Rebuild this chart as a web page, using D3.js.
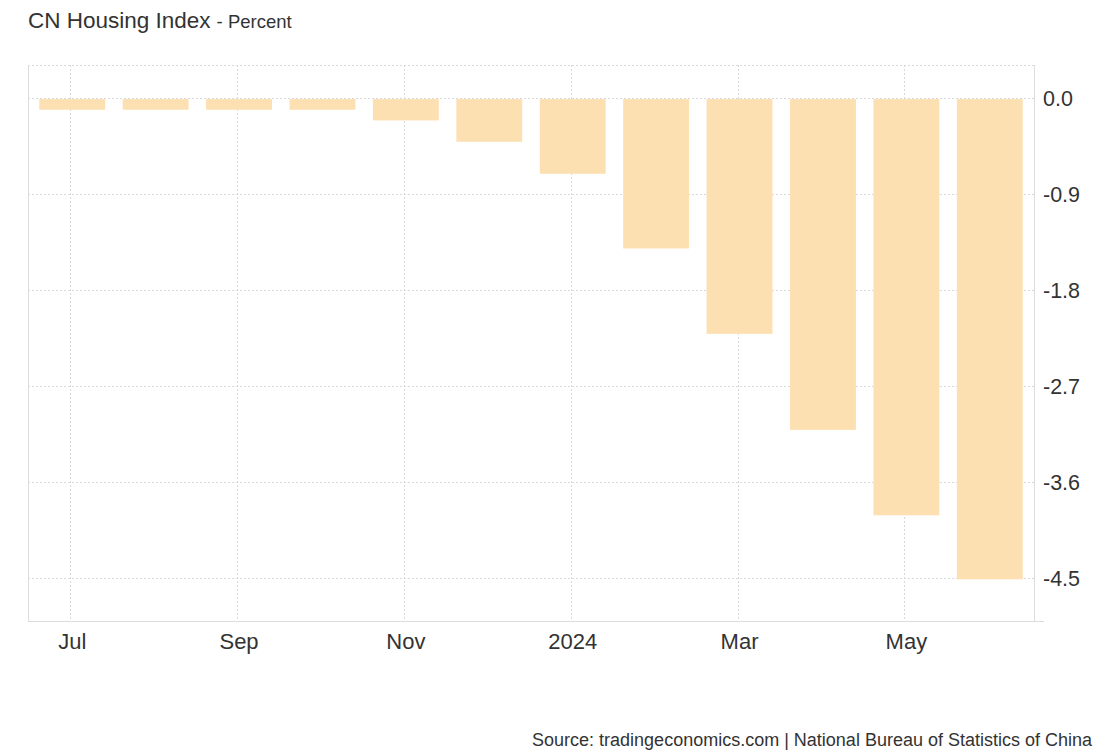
<!DOCTYPE html>
<html><head><meta charset="utf-8">
<script src="https://cdn.jsdelivr.net/npm/d3@7"></script>
<style>
html,body{margin:0;padding:0;background:#fff;}
svg{display:block;font-family:Arial,"Liberation Sans",Helvetica,sans-serif;}
</style></head>
<body>
<svg id="chart" width="1100" height="754"></svg>
<script>
const months = ["2023-07","2023-08","2023-09","2023-10","2023-11","2023-12","2024-01","2024-02","2024-03","2024-04","2024-05","2024-06"];
const values = [-0.1,-0.1,-0.1,-0.1,-0.2,-0.4,-0.7,-1.4,-2.2,-3.1,-3.9,-4.5];
const xTickMonths = ["2023-07","2023-09","2023-11","2024-01","2024-03","2024-05"];
const xTickLabels = ["Jul","Sep","Nov","2024","Mar","May"];
const yTicks = [0,-0.9,-1.8,-2.7,-3.6,-4.5];

const svg = d3.select("#chart");
const L = 28, R = 1034, T = 65, B = 621;

const x = d3.scaleBand().domain(months).range([L, R]).paddingInner(0.21).paddingOuter(0.135);
const y = d3.scaleLinear().domain([0.31, -4.9]).range([T, B]);

// title
const title = svg.append("text").attr("x", 28).attr("y", 28).attr("fill", "#333");
title.append("tspan").attr("font-size", 22.5).text("CN Housing Index");
title.append("tspan").attr("font-size", 18.5).attr("dx", 6).text("- Percent");

// gridlines horizontal
svg.append("g").selectAll("line").data(yTicks).join("line")
  .attr("x1", L).attr("x2", R).attr("y1", d => Math.round(y(d)) + 0.5).attr("y2", d => Math.round(y(d)) + 0.5)
  .attr("stroke", "#d9d9d9").attr("stroke-dasharray", "2,2");
// top border dotted
svg.append("line").attr("x1", L).attr("x2", R).attr("y1", T + 0.5).attr("y2", T + 0.5)
  .attr("stroke", "#d9d9d9").attr("stroke-dasharray", "2,2");
// vertical gridlines
svg.append("g").selectAll("line").data(xTickMonths).join("line")
  .attr("x1", d => Math.round(x(d) + x.bandwidth() / 2) - 1.5).attr("x2", d => Math.round(x(d) + x.bandwidth() / 2) - 1.5)
  .attr("y1", T).attr("y2", B)
  .attr("stroke", "#d9d9d9").attr("stroke-dasharray", "2,2");

// bars
svg.append("g").selectAll("rect").data(months).join("rect")
  .attr("x", d => x(d)).attr("width", x.bandwidth())
  .attr("y", (d, i) => y(Math.max(0, values[i])) + 1)
  .attr("height", (d, i) => Math.abs(y(values[i]) - y(0)))
  .attr("fill", "#fde0b2");

// borders
svg.append("line").attr("x1", L + 0.5).attr("x2", L + 0.5).attr("y1", T).attr("y2", B).attr("stroke", "#dcdcdc");
svg.append("line").attr("x1", R + 0.5).attr("x2", R + 0.5).attr("y1", T).attr("y2", B).attr("stroke", "#dcdcdc");
svg.append("line").attr("x1", L).attr("x2", R + 10).attr("y1", B + 0.5).attr("y2", B + 0.5).attr("stroke", "#dcdcdc");

// y axis labels
svg.append("g").selectAll("text").data(yTicks).join("text")
  .attr("x", 1043).attr("y", d => y(d) + 7.5)
  .attr("font-size", 21.5).attr("fill", "#333")
  .text(d => d3.format(".1f")(d).replace("−", "-"));

// x axis labels
svg.append("g").selectAll("text").data(xTickMonths).join("text")
  .attr("x", d => x(d) + x.bandwidth() / 2).attr("y", 649)
  .attr("text-anchor", "middle").attr("font-size", 22).attr("fill", "#333")
  .text((d, i) => xTickLabels[i]);

// source
svg.append("text").attr("x", 1092).attr("y", 746).attr("text-anchor", "end")
  .attr("font-size", 18).attr("fill", "#333")
  .text("Source: tradingeconomics.com | National Bureau of Statistics of China");
</script>
</body></html>
